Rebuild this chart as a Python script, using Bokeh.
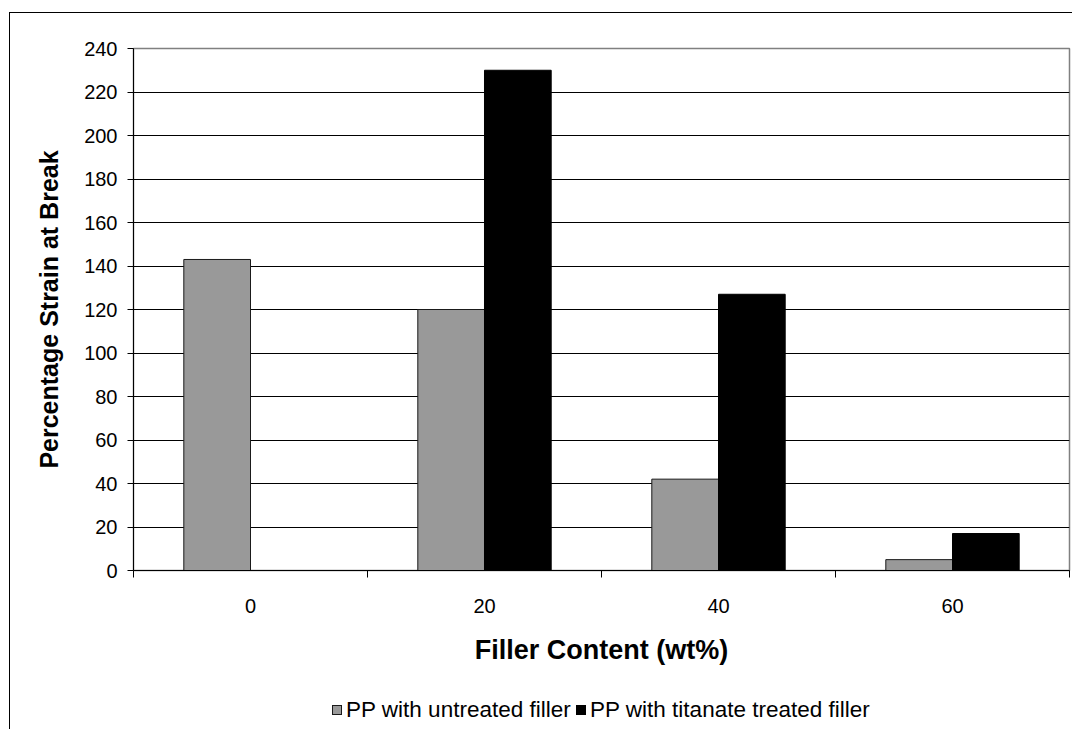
from bokeh.plotting import figure
from bokeh.layouts import column
from bokeh.models import ColumnDataSource, FixedTicker, Grid, InlineStyleSheet, Div
from bokeh.transform import dodge
from bokeh.embed import file_html
from bokeh.resources import INLINE

# Filler content categories (wt%) and strain at break (%) for each formulation
categories = ["0", "20", "40", "60"]
untreated = [143, 120, 42, 5]
treated = [0, 230, 127, 17]
y_ticks = [0, 20, 40, 60, 80, 100, 120, 140, 160, 180, 200, 220, 240]

series_names = ["PP with untreated filler", "PP with titanate treated filler"]
series_fill = ["#999999", "#000000"]
series_line = ["#1a1a1a", "#000000"]

FONT = "Liberation Sans"

centers = [i + 0.5 for i in range(len(categories))]
source = ColumnDataSource(dict(x=centers, untreated=untreated, treated=treated))

p = figure(width=1072, height=680, output_backend="svg", toolbar_location=None,
           x_range=(0, len(categories)), y_range=(0, 240),
           min_border_left=133, min_border_right=3, min_border_top=48,
           min_border_bottom=110)
p.background_fill_color = "white"
p.border_fill_color = "white"
p.outline_line_color = "#808080"
p.outline_line_width = 1.5

bar_w = 0.285
p.vbar(x=dodge("x", -bar_w / 2, range=p.x_range), top="untreated", width=bar_w,
       source=source, fill_color=series_fill[0], line_color=series_line[0], line_width=1)
p.vbar(x=dodge("x", bar_w / 2, range=p.x_range), top="treated", width=bar_w,
       source=source, fill_color=series_fill[1], line_color=series_line[1], line_width=1)

# horizontal gridlines (the top one is the plot outline)
p.xgrid.visible = False
p.ygrid.visible = False
p.add_layout(Grid(dimension=1, ticker=FixedTicker(ticks=y_ticks[1:-1]),
                  grid_line_color="#000000", grid_line_width=1))

# x axis: labels at category centres, tick marks at category boundaries
xa = p.xaxis[0]
xa.ticker = FixedTicker(ticks=centers, minor_ticks=list(range(len(categories) + 1)))
xa.major_label_overrides = {c: lab for c, lab in zip(centers, categories)}
xa.major_tick_out = 0
xa.major_tick_in = 0
xa.minor_tick_out = 7
xa.minor_tick_in = 0
xa.minor_tick_line_color = "#000000"
xa.axis_line_color = "#000000"
xa.major_label_standoff = 21
xa.major_label_text_font = FONT
xa.major_label_text_font_size = "20px"
xa.major_label_text_color = "#000000"
xa.axis_label = "Filler Content (wt%)"
xa.axis_label_text_font = FONT
xa.axis_label_text_font_style = "bold"
xa.axis_label_text_font_size = "27px"
xa.axis_label_text_color = "#000000"
xa.axis_label_standoff = 19

ya = p.yaxis[0]
ya.ticker = FixedTicker(ticks=y_ticks)
ya.minor_tick_line_color = None
ya.major_tick_out = 6
ya.major_tick_in = 0
ya.major_tick_line_color = "#000000"
ya.axis_line_color = "#000000"
ya.major_label_standoff = 10
ya.major_label_text_font = FONT
ya.major_label_text_font_size = "20px"
ya.major_label_text_color = "#000000"
ya.axis_label = "Percentage Strain at Break"
ya.axis_label_text_font = FONT
ya.axis_label_text_font_style = "bold"
ya.axis_label_text_font_size = "25px"
ya.axis_label_text_color = "#000000"
ya.axis_label_standoff = 18

# legend strip under the chart, laid out as HTML
swatch_left = [332, 576]
label_left = [346, 590]
parts = []
for name, fill, line, sx, lx in zip(series_names, series_fill, series_line,
                                    swatch_left, label_left):
    parts.append(
        f'<span style="position:absolute;left:{sx}px;top:25px;width:10px;height:10px;'
        f'background:{fill};border:1px solid {line};"></span>'
        f'<span style="position:absolute;left:{lx}px;top:17px;line-height:26px;'
        f'white-space:nowrap;">{name}</span>')
legend_html = (f'<div style="position:relative;width:1072px;height:49px;'
               f'font-family:\'{FONT}\';font-size:22.5px;color:#000;">'
               + "".join(parts) + '</div>')
leg = Div(text=legend_html, width=1072, height=49,
          styles={"margin": "0", "padding": "0", "background": "white"})

layout = column(p, leg, spacing=0)
# outer chart-area frame (top and left edges; the rest falls at the page edge)
layout.stylesheets = [InlineStyleSheet(css="""
:host::after {
  content: "";
  position: absolute;
  left: 9px;
  top: 12px;
  right: 0;
  bottom: 0;
  border-top: 1.5px solid #000;
  border-left: 1.5px solid #000;
  pointer-events: none;
}
""")]

open("out.html", "w").write(file_html(layout, INLINE))
